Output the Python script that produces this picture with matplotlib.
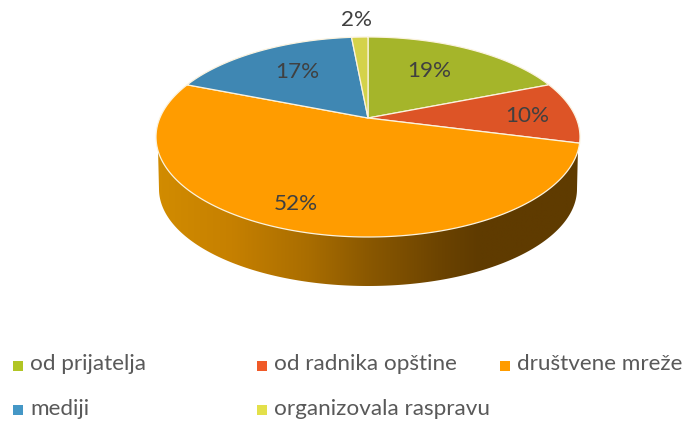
import numpy as np
import matplotlib
matplotlib.use("Agg")
import matplotlib.pyplot as plt
from matplotlib.patches import Polygon
from matplotlib.colors import LinearSegmentedColormap

categories = ["od prijatelja", "od radnika opštine", "društvene mreže", "mediji", "organizovala raspravu"]
values = [19, 10, 52, 17.5, 1.5]
pct_labels = ["19%", "10%", "52%", "17%", "2%"]
slice_colors = ["#a5b52a", "#dd5426", "#ff9c00", "#3f87b3", "#d4d24a"]
legend_colors = ["#b1c524", "#f05a28", "#ff9c00", "#4597c6", "#e3e04a"]

plt.rcParams["font.family"] = ["Lato", "DejaVu Sans"]
fig = plt.figure(figsize=(6.85, 4.22), dpi=100)
ax = fig.add_axes([0, 0, 1, 1])
ax.set_xlim(0, 685)
ax.set_ylim(422, 0)
ax.axis("off")

CX, CY, RX, RY, K = 368.0, 137.0, 212.0, 100.0, 0.19
LCY, LRX, LRY = 189.0, 209.0, 97.0


def project(r, theta):
    """Perspective view of a flat disc: theta clockwise from the top."""
    u, v = r * np.sin(theta), r * np.cos(theta)
    d = 1 + K * v
    return CX + RX * u * np.sqrt(1 - K**2) / d, CY - RY * (v + K) / d


# side wall with horizontal gradient
t = np.radians(np.linspace(90, 270, 200))
lower = np.c_[CX + LRX * np.sin(t), LCY - LRY * np.cos(t)]
t_top = np.radians([98.0, 262.0])
tl = np.c_[CX + RX * np.sin(t_top), CY - RY * np.cos(t_top)]
wall = np.vstack([tl[0], lower, tl[1], [[CX, CY]]])
wall_patch = Polygon(wall, closed=True, fc="none", ec="none", transform=ax.transData)
ax.add_patch(wall_patch)
stops = [(0.0, "#d28c00"), (0.18, "#c68000"), (0.36, "#a96d00"), (0.50, "#8a5800"),
         (0.68, "#6a4200"), (0.76, "#5f3b00"), (1.0, "#5f3b00")]
cmap = LinearSegmentedColormap.from_list("wall", stops)
grad = np.linspace(0, 1, 512)[None, :]
im = ax.imshow(grad, cmap=cmap, extent=(155, 582, 290, 130), aspect="auto", zorder=1, interpolation="bilinear")
im.set_clip_path(wall_patch)
ax.set_xlim(0, 685)
ax.set_ylim(422, 0)

# top slices
edges = np.cumsum([0] + values) / sum(values) * 2 * np.pi
for start, end, color in zip(edges[:-1], edges[1:], slice_colors):
    th = np.linspace(start, end, 160)
    xs, ys = project(1.0, th)
    ax0, ay0 = project(0.0, 0.0)
    pts = np.vstack([[ax0, ay0], np.c_[xs, ys]])
    ax.add_patch(Polygon(pts, closed=True, fc=color, ec="#fbf3df", lw=0.9, zorder=2, joinstyle="round"))

# data labels
label_xy = [(429, 71), (527, 116), (296, 204), (297, 72), (357, 20)]
for txt, (x, y) in zip(pct_labels, label_xy):
    ax.text(x, y, txt, ha="center", va="center", fontsize=16.2, color="#404040", zorder=3)

# legend
legend_xy = [(18, 365.5), (262, 365.5), (505, 365.5), (18, 410), (262, 410)]
for name, color, (x, y) in zip(categories, legend_colors, legend_xy):
    ax.scatter([x], [y], marker="s", s=60, c=color, linewidths=0, zorder=3)
    ax.text(x + 12, y - 1, name, ha="left", va="center", fontsize=16.2, color="#595959", zorder=3)

fig.savefig("out.png", dpi=100)
